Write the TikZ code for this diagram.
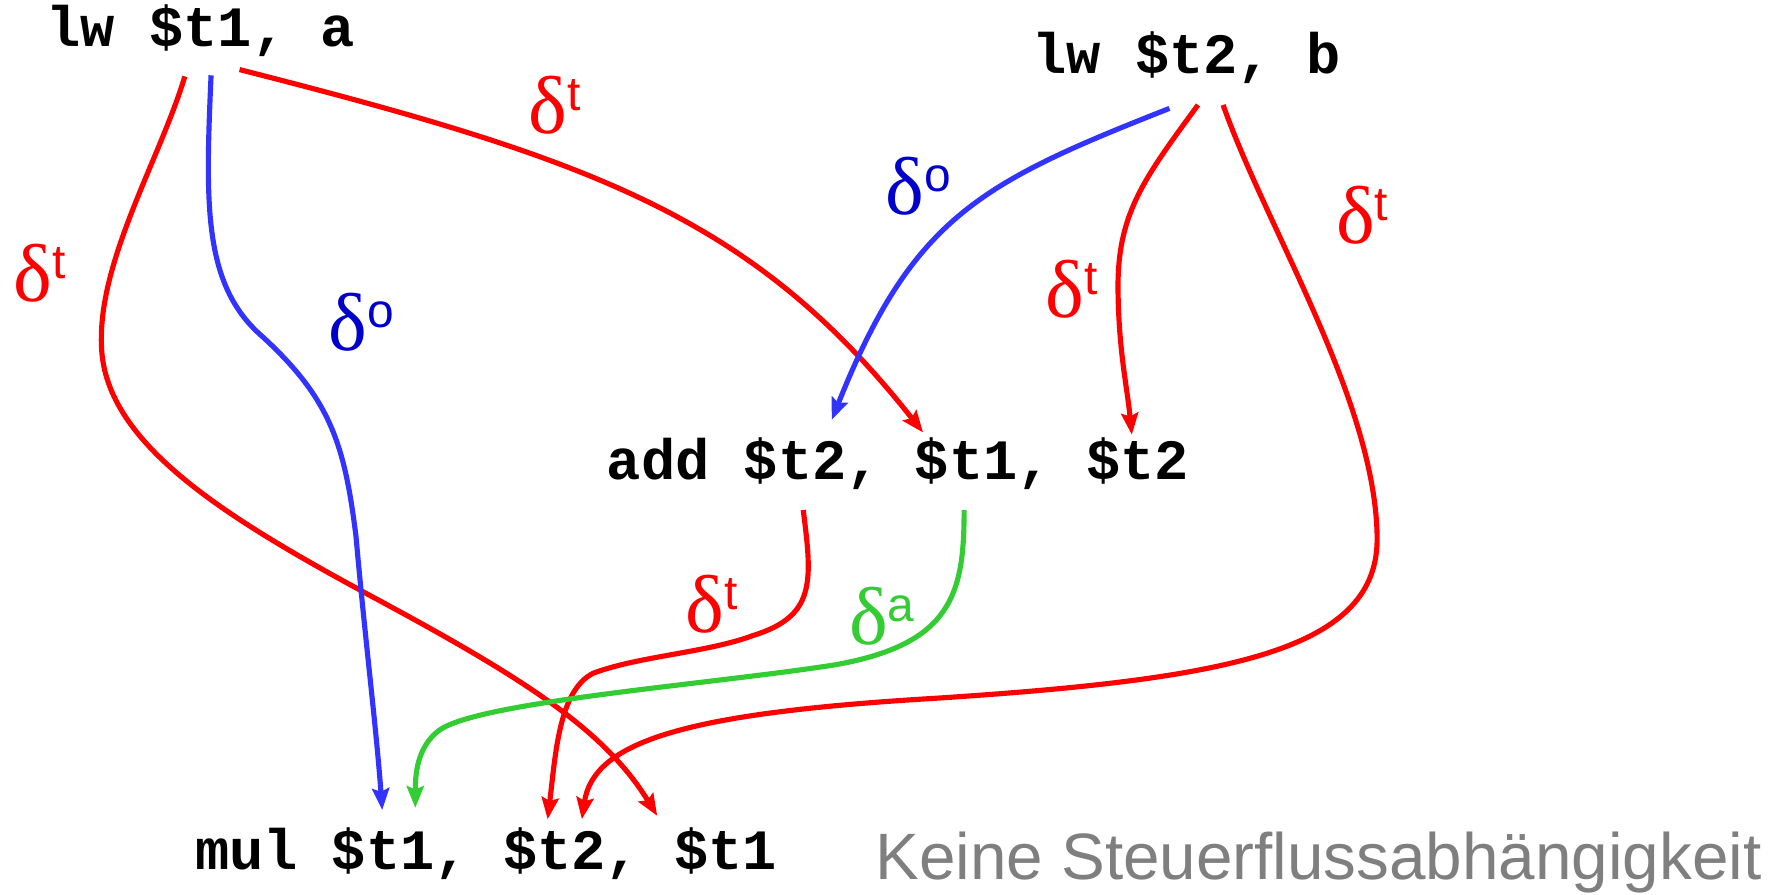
\documentclass[tikz,border=0pt]{standalone}
\usepackage{fontspec}
\usetikzlibrary{arrows.meta}
\newfontfamily\codefont{Liberation Mono}
\newfontfamily\delfont{Liberation Serif}
\newfontfamily\supfont{Liberation Sans}
\definecolor{dred}{HTML}{FF0000}
\definecolor{dblue}{HTML}{3333FF}
\definecolor{dbluetext}{HTML}{0000CC}
\definecolor{dgreen}{HTML}{33CC33}
\definecolor{note}{HTML}{7F7F7F}
\newcommand\dlab[1]{{\delfont\fontsize{72}{80}\selectfont δ}\raisebox{20pt}{\supfont\fontsize{42}{50}\selectfont #1}}
\begin{document}
\begin{tikzpicture}[x=1pt,y=-1pt,
  instr/.style={font=\codefont\bfseries\fontsize{50}{60}\selectfont, inner sep=0pt, anchor=base},
  lab/.style={inner sep=0pt, anchor=base west},
  dep/.style={line width=4.5pt, -{Stealth[length=19pt,width=15pt,inset=3pt]}},
]
\useasboundingbox (0,0) rectangle (1568,784);

% instructions
\node[instr] (lw1) at (176,41) {lw \$t1, a};
\node[instr] (lw2) at (1040,64) {lw \$t2, b};
\node[instr] (add) at (787,420) {add \$t2, \$t1, \$t2};
\node[instr] (mul) at (426,762) {mul \$t1, \$t2, \$t1};
\node[inner sep=0pt, anchor=base west, text=note, font=\supfont\fontsize{57.5}{66}\selectfont] (note) at (767,771) {Keine Steuerflussabhängigkeit};

% connector end points
\coordinate (a1) at (162,67);
\coordinate (a2) at (185,66);
\coordinate (a3) at (210,61);
\coordinate (b1) at (1025,95);
\coordinate (b2) at (1050,92);
\coordinate (b3) at (1072,92);
\coordinate (c1) at (704,447);
\coordinate (c2) at (845,447);
\coordinate (addA) at (729,368);
\coordinate (addB) at (809,379);
\coordinate (addC) at (992,381);
\coordinate (mulA) at (335,710);
\coordinate (mulB) at (364,708);
\coordinate (mulC) at (480,718);
\coordinate (mulD) at (510,718);
\coordinate (mulE) at (576,715);

% lw $t1 dependences
\draw[dep, dred] (a1) .. controls (140,140) and (85,230) .. (89,305)
  .. controls (93,390) and (200,455) .. (330,525)
  .. controls (460,595) and (530,640) .. (mulE);
\draw[dep, dblue] (a2) .. controls (180,180) and (178,250) .. (230,295)
  .. controls (290,350) and (302,390) .. (312,470)
  .. controls (320,560) and (330,640) .. (mulA);
\draw[dep, dred] (a3) .. controls (520,140) and (660,190) .. (addB);

% lw $t2 dependences
\draw[dep, dblue] (b1) .. controls (860,160) and (800,190) .. (addA);
\draw[dep, dred] (b2) .. controls (1000,160) and (978,190) .. (980,260)
  .. controls (981,310) and (988,340) .. (addC);
\draw[dep, dred] (b3) .. controls (1110,200) and (1205,350) .. (1207,470)
  .. controls (1209,570) and (1080,595) .. (820,612)
  .. controls (600,625) and (520,650) .. (mulD);

% add dependences
\draw[dep, dred] (c1) .. controls (712,510) and (715,540) .. (660,557)
  .. controls (620,572) and (560,575) .. (520,590)
  .. controls (490,605) and (487,660) .. (mulC);
\draw[dep, dgreen] (c2) .. controls (845,520) and (835,565) .. (730,583)
  .. controls (620,600) and (420,615) .. (385,640)
  .. controls (365,655) and (364,680) .. (mulB);

% labels
\node[lab, text=dred] (l1) at (12,264) {\dlab{t}};
\node[lab, text=dbluetext] (l2) at (288,307) {\dlab{o}};
\node[lab, text=dred] (l3) at (463,117) {\dlab{t}};
\node[lab, text=dbluetext] (l4) at (776,188) {\dlab{o}};
\node[lab, text=dred] (l5) at (916,278) {\dlab{t}};
\node[lab, text=dred] (l6) at (1171,213) {\dlab{t}};
\node[lab, text=dred] (l7) at (601,554) {\dlab{t}};
\node[lab, text=dgreen] (l8) at (744,565) {\dlab{a}};
\end{tikzpicture}
\end{document}
